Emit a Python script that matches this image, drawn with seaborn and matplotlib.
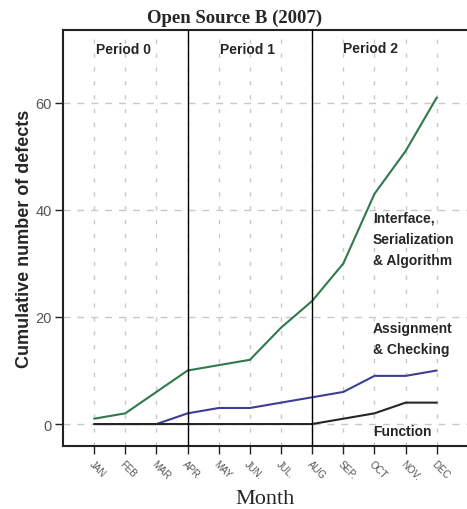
import matplotlib
matplotlib.use("Agg")
import matplotlib.pyplot as plt
import seaborn as sns
import pandas as pd

months = ["JAN", "FEB", "MAR", "APR", "MAY", "JUN.", "JUL.", "AUG", "SEP.", "OCT", "NOV.", "DEC"]
interface = [1, 2, 6, 10, 11, 12, 18, 23, 30, 43, 51, 61]
assignment = [0, 0, 0, 2, 3, 3, 4, 5, 6, 9, 9, 10]
function = [0, 0, 0, 0, 0, 0, 0, 0, 1, 2, 4, 4]
period_bounds = [3, 7]
period_labels = ["Period 0", "Period 1", "Period 2"]
y_ticks = [0, 20, 40, 60]

sns.set_style("white")
plt.rcParams["font.family"] = ["Liberation Sans", "DejaVu Sans"]

idx = list(range(len(months)))
df = pd.DataFrame({
    "month": idx * 3,
    "defects": interface + assignment + function,
    "group": (["Interface"] * 12) + (["Assignment"] * 12) + (["Function"] * 12),
})
palette = {"Interface": "#2e7a4c", "Assignment": "#3e3e9a", "Function": "#252525"}

fig = plt.figure(figsize=(4.67, 5.10), dpi=100)
ax = fig.add_axes([63 / 467, 1 - 447 / 510, 1 - 63 / 467 + 0.002, (447 - 31) / 510])

# dashed reference grid
for y in y_ticks:
    ax.axhline(y, color="#c8c8c8", lw=1.0, dashes=(5, 5), zorder=0)
for x in idx:
    ax.axvline(x, color="#c8c8c8", lw=1.0, dashes=(3, 7), zorder=0)

sns.lineplot(data=df, x="month", y="defects", hue="group", palette=palette,
             ax=ax, legend=False, lw=1.5, zorder=3)

for b in period_bounds:
    ax.axvline(b, color="black", lw=1.0, zorder=4)

ax.set_xlim(-1, 12)
ax.set_ylim(-4.1, 73.6)
ax.set_xticks(idx)
ax.set_xticklabels(months, rotation=-45, ha="left", va="top",
                   rotation_mode="anchor", fontsize=7, color="#555555")
ax.set_yticks(y_ticks)
ax.set_yticklabels([str(v) for v in y_ticks], fontsize=10.5, color="#555555")
ax.tick_params(axis="both", direction="out", length=6, width=1.0, color="#222222",
               bottom=True, left=True)
ax.tick_params(axis="x", pad=3)
ax.tick_params(axis="y", pad=2)

for s in ["left", "bottom", "top"]:
    ax.spines[s].set_visible(True)
    ax.spines[s].set_color("#222222")
    ax.spines[s].set_linewidth(1.5)
ax.spines["right"].set_visible(False)

ax.set_xlabel("Month", family=["Liberation Serif", "DejaVu Serif"], fontsize=16, labelpad=5)
ax.set_ylabel("Cumulative number of defects", fontsize=13, fontweight="bold", labelpad=2)
ax.set_title("Open Source B (2007)", family=["Liberation Serif", "DejaVu Serif"],
             fontsize=13.5, fontweight="bold", pad=6, x=0.423)

# period headings
for xpos, ypos, label in zip([0.93, 4.92, 8.87], [70.0, 70.0, 70.3], period_labels):
    ax.text(xpos, ypos, label, ha="center", va="center", fontsize=10, fontweight="bold")

# series annotations
ax.text(8.95, 34.6, "Interface,\nSerialization\n& Algorithm", ha="left", va="center",
        fontsize=10, fontweight="bold", linespacing=1.65)
ax.text(8.95, 15.9, "Assignment\n& Checking", ha="left", va="center",
        fontsize=10, fontweight="bold", linespacing=1.65)
ax.text(8.95, -1.3, "Function", ha="left", va="center", fontsize=10, fontweight="bold")

fig.savefig("out.png", dpi=100)
